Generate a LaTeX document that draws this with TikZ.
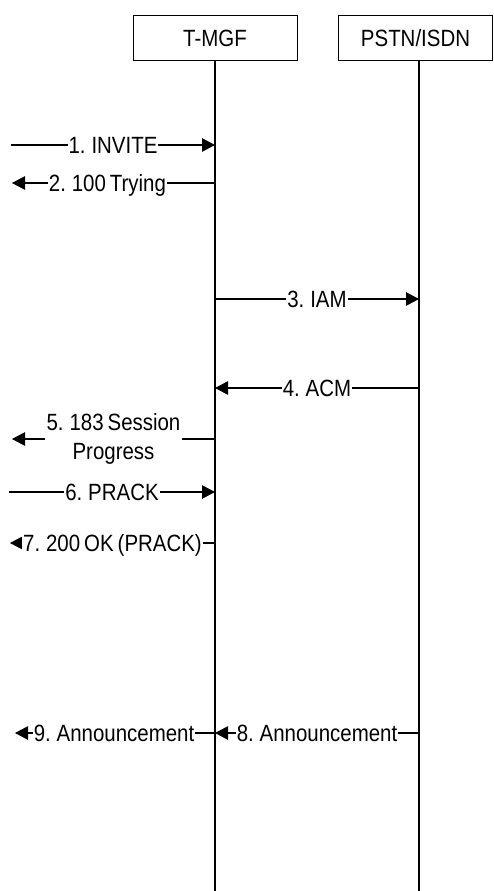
\documentclass[tikz,border=0pt]{standalone}
\usepackage{fontspec}
\setmainfont{Liberation Sans}[FakeStretch=0.87,WordSpace=0.7]
\usetikzlibrary{arrows.meta}
\begin{document}
\begin{tikzpicture}[x=1pt,y=-1pt,
  font=\fontsize{23.5}{29}\selectfont,
  entity/.style={draw,line width=0.9pt,minimum height=45pt,inner sep=0pt},
  life/.style={line width=1.2pt},
  msg/.style={line width=1.1pt,-{Triangle[length=13pt,width=13.5pt]}},
  lbl/.style={fill=white,inner xsep=1pt,inner ysep=2pt,text height=16.8pt,text depth=0pt}]
\useasboundingbox (0,0) rectangle (493,891);
% entities
\node[entity,minimum width=164pt] (tmgf) at (215,38) {T-MGF};
\node[entity,minimum width=154pt] (pstn) at (415.5,38) {PSTN/ISDN};
% lifelines
\coordinate (tend) at (215,891);
\coordinate (pend) at (419,891);
\coordinate (ptop) at (419,60.5);
\draw[life] (tmgf.south) -- (tend);
\draw[life] (ptop) -- (pend);
% lifeline points
\coordinate (t1) at (215,145);
\coordinate (t2) at (215,183);
\coordinate (t3) at (215,299);
\coordinate (p3) at (419,299);
\coordinate (t4) at (215,388);
\coordinate (p4) at (419,388);
\coordinate (t5) at (215,439);
\coordinate (t6) at (215,492);
\coordinate (t7) at (215,543);
\coordinate (t8) at (215,733);
\coordinate (p8) at (419,733);
% free ends
\coordinate (e1) at (11,145);
\coordinate (e2) at (12,183);
\coordinate (e5) at (12,439);
\coordinate (e6) at (9,492);
\coordinate (e7) at (10,543);
\coordinate (e9) at (15,733);
% messages
\draw[msg] (e1) -- node[lbl,pos=0.5] {1. INVITE} (t1);
\draw[msg] (t2) -- node[lbl,pos=0.53] {2. 100 Trying} (e2);
\draw[msg] (t3) -- node[lbl,pos=0.5] {3. IAM} (p3);
\draw[msg] (p4) -- node[lbl,pos=0.5] {4. ACM} (t4);
\draw[msg] (t5) -- node[fill=white,inner xsep=2pt,inner ysep=0pt,align=center,pos=0.5] {5. 183 Session\\Progress} (e5);
\draw[msg] (e6) -- node[lbl,pos=0.5] {6. PRACK} (t6);
\draw[msg] (t7) -- node[lbl,pos=0.5] {7. 200 OK (PRACK)} (e7);
\draw[msg] (p8) -- node[lbl,pos=0.5] {8. Announcement} (t8);
\draw[msg] (t8) -- node[lbl,pos=0.505] {9. Announcement} (e9);
\end{tikzpicture}
\end{document}
